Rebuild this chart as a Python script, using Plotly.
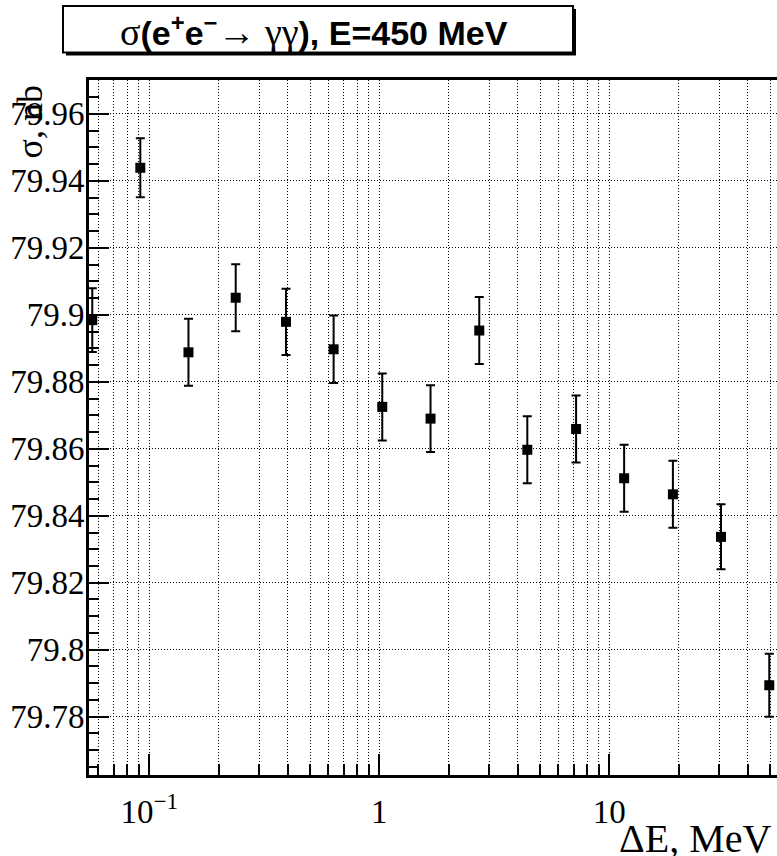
import plotly.graph_objects as go

# ---- data ----
energy_mev = [0.0565, 0.0914, 0.148, 0.2375, 0.393, 0.633, 1.03, 1.67, 2.72,
              4.40, 7.17, 11.6, 18.9, 30.6, 49.6]
sigma_nb = [79.8984, 79.9439, 79.8888, 79.9051, 79.8979, 79.8897, 79.8725,
            79.8690, 79.8953, 79.8597, 79.8659, 79.8512, 79.8464, 79.8337, 79.7894]
sigma_err = [0.0095, 0.0088, 0.0100, 0.0100, 0.0099, 0.0101, 0.0100, 0.0100,
             0.0100, 0.0100, 0.0100, 0.0100, 0.0100, 0.0097, 0.0094]

y_tick_values = [79.78, 79.80, 79.82, 79.84, 79.86, 79.88, 79.90, 79.92, 79.94, 79.96]
y_tick_labels = ["79.78", "79.8", "79.82", "79.84", "79.86", "79.88", "79.9", "79.92", "79.94", "79.96"]
x_tick_values = [0.1, 1, 10]
x_tick_labels = ["10<sup>\u22121</sup>", "1", "10"]
x_minor_values = [0.06, 0.07, 0.08, 0.09, 0.2, 0.3, 0.4, 0.5, 0.6, 0.7, 0.8, 0.9,
                  2, 3, 4, 5, 6, 7, 8, 9, 20, 30, 40, 50]

# ---- geometry ----
W, H = 777, 856
L, R, T, B = 89, 0, 80, 81
PW, PH = W - L - R, H - T - B


def px2x(px):
    return (px - L) / PW


def py2y(py):
    return (H - B - py) / PH


SERIF = "Liberation Serif"
SANS = "Liberation Sans"

fig = go.Figure()
fig.add_trace(go.Scatter(
    x=energy_mev, y=sigma_nb, mode="markers",
    marker=dict(symbol="square", size=10, color="black"),
    error_y=dict(type="data", array=sigma_err, visible=True,
                 color="black", thickness=2, width=4.5),
    showlegend=False,
))

fig.update_layout(
    width=W, height=H,
    margin=dict(l=L, r=R, t=T, b=B, pad=0),
    paper_bgcolor="white", plot_bgcolor="white",
    xaxis=dict(
        type="log", range=[-1.2622, 1.7291],
        tickmode="array", tickvals=x_tick_values, ticktext=x_tick_labels,
        ticks="inside", ticklen=21, tickwidth=2, tickcolor="black",
        showline=True, linewidth=2.5, linecolor="black", mirror=True,
        showgrid=True, gridcolor="black", gridwidth=1, griddash="1px,2px",
        tickfont=dict(family=SERIF, size=33, color="black"),
        ticklabelstandoff=6,
        minor=dict(tickmode="array", tickvals=x_minor_values, ticks="inside",
                   ticklen=11, tickwidth=2, tickcolor="black",
                   showgrid=True, gridcolor="black", gridwidth=1, griddash="1px,2px"),
        zeroline=False,
    ),
    yaxis=dict(
        range=[79.7626, 79.9701],
        tickmode="array", tickvals=y_tick_values, ticktext=y_tick_labels,
        ticks="inside", ticklen=20, tickwidth=2, tickcolor="black",
        showline=True, linewidth=3, linecolor="black",
        showgrid=True, gridcolor="black", gridwidth=1, griddash="1px,2px",
        tickfont=dict(family=SERIF, size=33, color="black"),
        ticklabelstandoff=-5,
        minor=dict(dtick=0.005, tick0=79.76, ticks="inside", ticklen=10,
                   tickwidth=2, tickcolor="black", showgrid=False),
        zeroline=False,
    ),
)

# title box with shadow
fig.add_shape(type="rect", xref="paper", yref="paper",
              x0=px2x(66), x1=px2x(576), y0=py2y(55.5), y1=py2y(9),
              fillcolor="black", line=dict(width=0), layer="above")
fig.add_shape(type="rect", xref="paper", yref="paper",
              x0=px2x(63), x1=px2x(573), y0=py2y(52.5), y1=py2y(6),
              fillcolor="white", line=dict(color="black", width=2), layer="above")

sym = "<span style='font-family:Liberation Serif;font-weight:normal;font-size:38px'>"
title_text = ("<b>" + sym + "\u03c3</span>(e<sup>+</sup>e<sup>\u2212</sup>" + sym +
              "\u2192 \u03b3\u03b3</span>), E=450 MeV</b>")
fig.add_annotation(text=title_text, xref="paper", yref="paper",
                   x=px2x(314), y=py2y(31), xanchor="center", yanchor="middle",
                   showarrow=False,
                   font=dict(family=SANS, size=34, color="black"))

# axis titles
fig.add_annotation(text="\u03c3, nb", xref="paper", yref="paper",
                   x=px2x(29), y=py2y(84), xanchor="center", yanchor="top",
                   textangle=-90, showarrow=False,
                   font=dict(family=SERIF, size=36, color="black"))
fig.add_annotation(text="\u0394E, MeV", xref="paper", yref="paper",
                   x=px2x(773), y=py2y(838), xanchor="right", yanchor="middle",
                   showarrow=False,
                   font=dict(family=SERIF, size=40, color="black"))

fig.write_html("out.html")
